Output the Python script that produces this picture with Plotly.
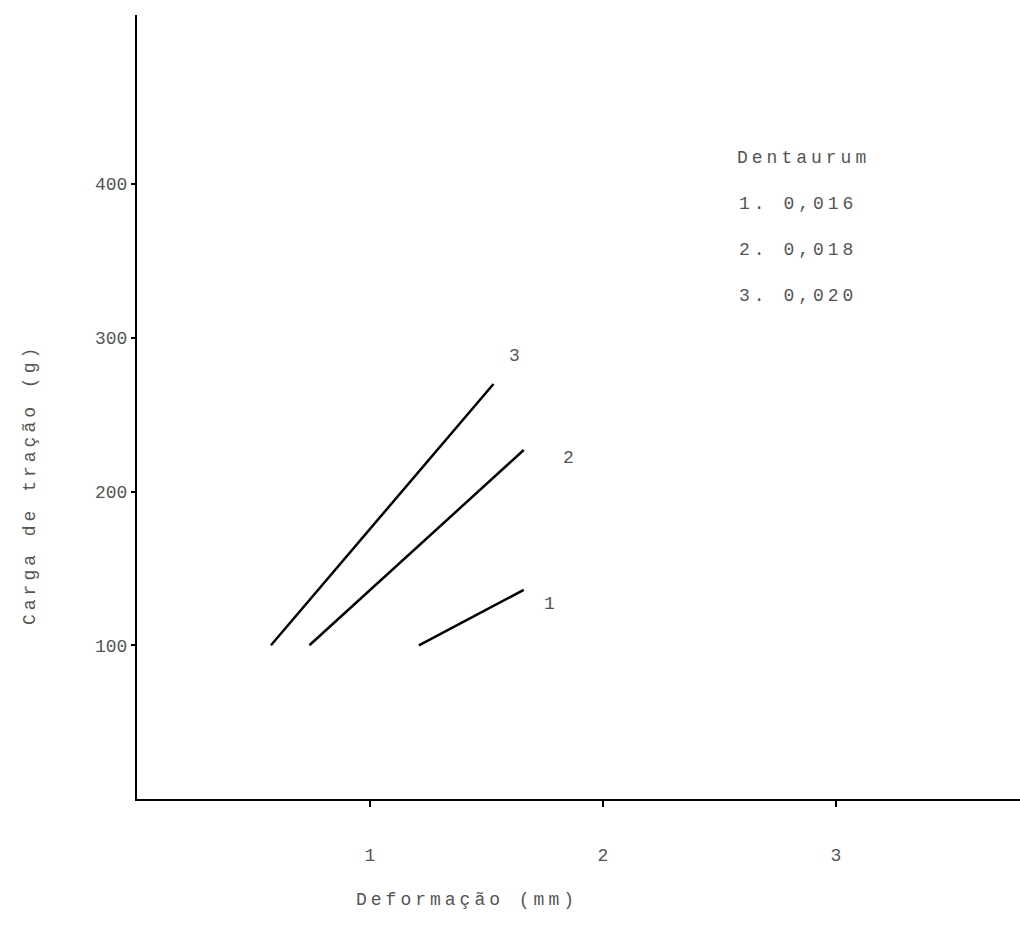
import plotly.graph_objects as go

# Tensile load vs. deformation for three Dentaurum wire gauges
series_names = ["1", "2", "3"]
deform_start = [1.21, 0.74, 0.575]      # mm
deform_end = [1.66, 1.66, 1.53]         # mm
load_start = [100, 100, 100]            # g
load_end = [136, 227, 270]              # g

# curve number labels placed beside each line end
label_x = [1.78, 1.86, 1.63]
label_y = [127, 222, 288]

legend_title = "Dentaurum"
legend_rows = ["1. 0,016", "2. 0,018", "3. 0,020"]

x_ticks = [1, 2, 3]
y_ticks = [100, 200, 300, 400]

FONT = "Liberation Mono"
TXT = "#555555"
W, H = 1020, 935
L, R, T, B = 137, 0, 15, 136


def px_to_paper(px, py):
    """Convert a page pixel position to paper coordinates."""
    return (px - L) / (W - L - R), (H - B - py) / (H - T - B)


fig = go.Figure()
for i in range(len(series_names)):
    fig.add_trace(go.Scatter(
        x=[deform_start[i], deform_end[i]],
        y=[load_start[i], load_end[i]],
        mode="lines",
        line=dict(color="black", width=2.5),
        showlegend=False,
        hoverinfo="skip",
    ))

annotations = []
for i, name in enumerate(series_names):
    annotations.append(dict(x=label_x[i], y=label_y[i], xref="x", yref="y",
                            text=name, showarrow=False,
                            font=dict(family=FONT, size=18, color=TXT)))

# legend block, left aligned
rows = [legend_title] + legend_rows
row_y = [158, 204, 250, 296]
for text, py in zip(rows, row_y):
    ax, ay = px_to_paper(753, py)
    annotations.append(dict(x=ax, y=ay, xref="paper", yref="paper", text=text,
                            showarrow=False, xanchor="left", yanchor="middle",
                            font=dict(family=FONT, size=18, color=TXT)))

# axis titles
tx, ty = px_to_paper(467, 900)
annotations.append(dict(x=tx, y=ty, xref="paper", yref="paper", text="Deformação (mm)",
                        showarrow=False, xanchor="center", yanchor="middle",
                        font=dict(family=FONT, size=18, color=TXT)))
tx, ty = px_to_paper(30, 485)
annotations.append(dict(x=tx, y=ty, xref="paper", yref="paper", text="Carga de tração (g)",
                        textangle=-90, showarrow=False, xanchor="center", yanchor="middle",
                        font=dict(family=FONT, size=18, color=TXT)))

fig.update_layout(
    width=W, height=H,
    margin=dict(l=L, r=R, t=T, b=B),
    paper_bgcolor="white", plot_bgcolor="white",
    font=dict(family=FONT, size=18, color=TXT),
    xaxis=dict(range=[0, 3.79], tickvals=x_ticks, ticktext=[str(v) for v in x_ticks],
               showgrid=False, zeroline=False, showline=True, linecolor="black",
               linewidth=2, ticks="outside", ticklen=6, tickcolor="black", tickwidth=2,
               ticklabelstandoff=32),
    yaxis=dict(range=[0, 510], tickvals=y_ticks, ticktext=[str(v) for v in y_ticks],
               showgrid=False, zeroline=False, showline=True, linecolor="black",
               linewidth=2, ticks="outside", ticklen=4, tickcolor="black", tickwidth=2,
               ticklabelstandoff=0),
    annotations=annotations,
)

# wide character pitch for the annotation texts
fig.write_html("out.html", post_script=(
    "document.querySelectorAll('.annotation-text').forEach(function(t){"
    "t.style.letterSpacing='4px';});"
))
